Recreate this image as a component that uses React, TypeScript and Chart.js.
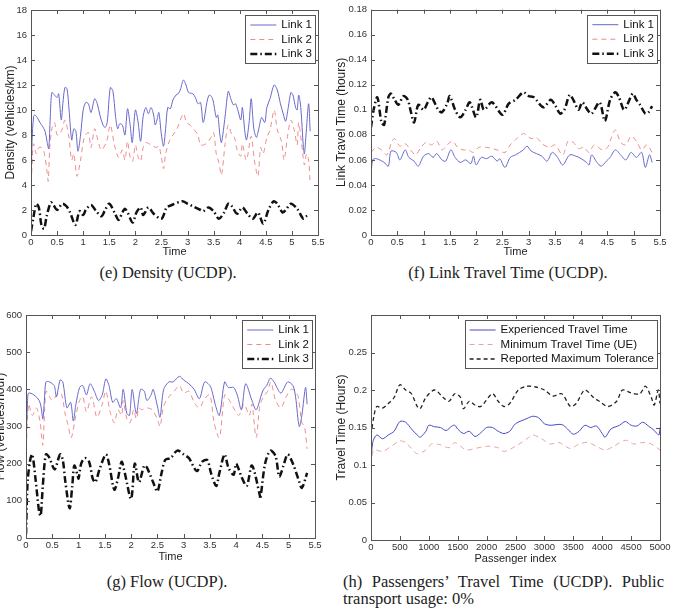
import React, { useEffect, useRef } from 'react';
import { Chart, registerables } from 'chart.js';
Chart.register(...registerables);

// ---------- Data (x, y pairs) ----------
const timeTicks = { min: 0, max: 5.5, step: 0.5 };

const densityLink1: [number, number][] = [[0,3],[0.02,7.5],[0.05,9.5],[0.07,9.6],[0.12,9.4],[0.17,9.0],[0.22,8.7],[0.27,8.3],[0.31,7.4],[0.34,6.9],[0.37,9.5],[0.4,11.4],[0.45,11.2],[0.5,11.0],[0.53,11.3],[0.58,9.2],[0.61,10.5],[0.65,11.8],[0.69,11.7],[0.73,10.0],[0.78,7.6],[0.82,8.5],[0.86,8.3],[0.9,6.7],[0.95,8.0],[1.0,10.0],[1.05,10.6],[1.1,10.5],[1.15,9.8],[1.22,10.9],[1.27,10.5],[1.32,9.6],[1.38,8.8],[1.42,8.6],[1.46,9.0],[1.52,11.8],[1.57,11.5],[1.62,9.5],[1.66,8.5],[1.7,8.9],[1.75,8.8],[1.8,8.0],[1.85,10.1],[1.9,8.8],[1.94,7.4],[2.0,10.0],[2.05,9.1],[2.1,7.5],[2.15,9.5],[2.2,10.2],[2.25,9.7],[2.3,10.2],[2.35,9.6],[2.38,8.8],[2.42,9.3],[2.45,9.8],[2.5,8.0],[2.54,7.1],[2.58,8.5],[2.62,10.2],[2.67,10.1],[2.72,10.8],[2.78,11.2],[2.82,11.3],[2.86,11.6],[2.92,12.4],[2.97,12.0],[3.02,11.4],[3.1,11.3],[3.15,11.0],[3.2,10.5],[3.25,10.6],[3.3,9.0],[3.38,10.8],[3.42,11.2],[3.48,10.9],[3.55,9.4],[3.58,9.6],[3.62,8.0],[3.65,7.4],[3.72,9.5],[3.78,11.5],[3.83,10.9],[3.88,10.4],[3.92,10.5],[3.97,9.9],[4.02,9.2],[4.05,10.2],[4.1,8.2],[4.13,7.6],[4.18,9.0],[4.22,10.9],[4.27,8.5],[4.32,7.8],[4.36,8.4],[4.42,9.4],[4.48,9.0],[4.52,10.2],[4.58,10.9],[4.66,12.0],[4.72,11.6],[4.78,10.5],[4.84,9.6],[4.88,9.1],[4.93,10.2],[4.98,11.4],[5.02,11.2],[5.07,10.2],[5.1,10.0],[5.13,11.2],[5.17,10.2],[5.22,7.0],[5.24,6.5],[5.27,8.0],[5.32,10.5],[5.35,8.3]];
const densityLink2: [number, number][] = [[0,3.5],[0.03,6.5],[0.05,7.3],[0.1,6.5],[0.15,7.0],[0.2,7.0],[0.24,6.8],[0.27,6.2],[0.31,5.0],[0.33,4.3],[0.36,7.0],[0.4,8.5],[0.45,9.0],[0.5,8.0],[0.55,8.1],[0.6,8.5],[0.65,9.2],[0.72,8.0],[0.78,6.0],[0.82,6.5],[0.88,4.7],[0.95,6.0],[1.02,7.8],[1.1,8.2],[1.15,7.0],[1.22,8.5],[1.28,7.6],[1.35,6.8],[1.45,7.5],[1.52,8.8],[1.6,7.2],[1.68,6.2],[1.75,6.8],[1.8,6.0],[1.85,7.5],[1.9,6.2],[1.95,5.9],[2.0,7.2],[2.05,6.3],[2.1,5.9],[2.15,7.0],[2.2,7.4],[2.3,7.2],[2.4,7.0],[2.45,7.1],[2.5,6.2],[2.54,5.3],[2.58,6.5],[2.65,7.5],[2.72,8.0],[2.8,8.5],[2.92,9.7],[2.98,9.0],[3.05,8.8],[3.15,8.3],[3.2,8.0],[3.25,7.2],[3.35,7.3],[3.45,7.8],[3.5,8.2],[3.55,6.5],[3.6,5.8],[3.65,4.8],[3.72,7.3],[3.78,8.8],[3.85,8.0],[3.9,7.8],[3.95,6.8],[4.02,6.3],[4.05,7.3],[4.12,6.0],[4.15,6.3],[4.22,7.9],[4.28,6.0],[4.35,4.7],[4.4,7.0],[4.45,6.5],[4.52,7.8],[4.58,8.4],[4.66,10.0],[4.72,8.4],[4.8,7.5],[4.85,6.0],[4.92,8.0],[4.98,9.2],[5.05,8.3],[5.1,7.2],[5.13,9.0],[5.2,6.8],[5.24,5.6],[5.28,6.5],[5.32,6.0],[5.35,4.2]];
const densityLink3: [number, number][] = [[0,0.3],[0.05,1.5],[0.1,2.5],[0.15,2.2],[0.2,0.8],[0.25,0.5],[0.3,1.5],[0.38,2.6],[0.43,2.4],[0.5,2.0],[0.6,2.5],[0.68,2.3],[0.75,1.8],[0.85,0.8],[0.93,1.9],[1.0,1.6],[1.05,2.0],[1.15,2.4],[1.25,1.9],[1.35,1.5],[1.42,2.0],[1.5,2.5],[1.6,1.8],[1.68,1.2],[1.75,1.8],[1.8,2.1],[1.85,1.8],[1.95,1.0],[2.02,1.8],[2.1,2.2],[2.15,1.6],[2.25,2.2],[2.35,1.7],[2.5,1.3],[2.6,2.2],[2.7,2.4],[2.9,2.7],[3.0,2.5],[3.1,2.3],[3.25,2.0],[3.3,1.9],[3.4,2.2],[3.5,1.9],[3.6,1.3],[3.7,1.8],[3.78,2.5],[3.85,2.3],[3.95,1.7],[4.05,2.2],[4.15,1.7],[4.25,1.3],[4.35,1.8],[4.45,0.9],[4.55,2.0],[4.65,2.7],[4.72,2.5],[4.82,1.8],[4.88,2.0],[4.98,2.5],[5.1,2.1],[5.22,1.3],[5.28,1.5],[5.35,1.6]];

const travelLink1: [number, number][] = [[0,0.045],[0.03,0.06],[0.1,0.061],[0.25,0.058],[0.33,0.055],[0.38,0.067],[0.48,0.066],[0.55,0.06],[0.65,0.068],[0.72,0.062],[0.82,0.059],[0.9,0.055],[1.0,0.063],[1.1,0.065],[1.18,0.062],[1.25,0.065],[1.35,0.06],[1.42,0.059],[1.52,0.068],[1.6,0.062],[1.7,0.058],[1.8,0.06],[1.9,0.057],[1.95,0.063],[2.0,0.056],[2.1,0.062],[2.2,0.061],[2.3,0.063],[2.4,0.059],[2.45,0.061],[2.55,0.054],[2.65,0.062],[2.75,0.064],[2.9,0.068],[2.97,0.071],[3.05,0.067],[3.15,0.065],[3.25,0.063],[3.35,0.059],[3.45,0.066],[3.55,0.062],[3.65,0.056],[3.78,0.064],[3.9,0.063],[4.0,0.061],[4.1,0.058],[4.15,0.056],[4.2,0.064],[4.3,0.058],[4.38,0.055],[4.48,0.059],[4.55,0.062],[4.65,0.068],[4.75,0.064],[4.85,0.06],[4.95,0.066],[5.05,0.062],[5.15,0.066],[5.22,0.054],[5.3,0.064],[5.35,0.058]];
const travelLink2: [number, number][] = [[0,0.066],[0.1,0.07],[0.2,0.068],[0.3,0.064],[0.4,0.075],[0.45,0.077],[0.55,0.071],[0.65,0.073],[0.75,0.068],[0.85,0.064],[0.95,0.07],[1.05,0.074],[1.15,0.072],[1.25,0.075],[1.35,0.068],[1.45,0.072],[1.55,0.075],[1.65,0.07],[1.75,0.068],[1.85,0.068],[1.95,0.066],[2.05,0.07],[2.2,0.07],[2.4,0.068],[2.55,0.066],[2.65,0.072],[2.75,0.076],[2.9,0.081],[3.05,0.077],[3.15,0.078],[3.25,0.073],[3.4,0.07],[3.5,0.072],[3.65,0.064],[3.75,0.075],[3.85,0.074],[3.95,0.069],[4.05,0.07],[4.15,0.066],[4.25,0.072],[4.4,0.068],[4.5,0.07],[4.55,0.075],[4.65,0.084],[4.75,0.074],[4.85,0.072],[4.95,0.079],[5.05,0.075],[5.15,0.068],[5.25,0.072],[5.35,0.066]];
const travelLink3: [number, number][] = [[0,0.086],[0.05,0.1],[0.12,0.11],[0.2,0.09],[0.25,0.088],[0.33,0.11],[0.38,0.113],[0.45,0.108],[0.52,0.104],[0.62,0.111],[0.7,0.108],[0.75,0.1],[0.82,0.09],[0.9,0.104],[1.0,0.1],[1.08,0.106],[1.15,0.11],[1.28,0.1],[1.35,0.098],[1.45,0.105],[1.5,0.111],[1.6,0.1],[1.7,0.094],[1.8,0.1],[1.88,0.106],[2.0,0.094],[2.08,0.108],[2.15,0.1],[2.3,0.106],[2.5,0.096],[2.62,0.105],[2.75,0.108],[2.9,0.114],[3.0,0.111],[3.1,0.11],[3.28,0.102],[3.42,0.108],[3.5,0.104],[3.6,0.097],[3.68,0.1],[3.78,0.112],[3.85,0.108],[3.95,0.1],[4.02,0.106],[4.12,0.1],[4.2,0.097],[4.35,0.106],[4.45,0.091],[4.55,0.108],[4.65,0.114],[4.72,0.11],[4.82,0.1],[4.98,0.113],[5.05,0.108],[5.12,0.104],[5.22,0.097],[5.28,0.098],[5.35,0.103]];

const flowLink1: [number, number][] = [[0,250],[0.03,370],[0.05,390],[0.15,385],[0.25,370],[0.29,350],[0.32,320],[0.35,370],[0.38,420],[0.45,420],[0.5,415],[0.54,410],[0.58,380],[0.65,425],[0.7,420],[0.78,350],[0.85,365],[0.9,315],[0.95,360],[1.02,405],[1.08,410],[1.15,385],[1.22,415],[1.3,395],[1.38,370],[1.45,385],[1.52,428],[1.58,410],[1.65,365],[1.72,375],[1.8,350],[1.85,400],[1.92,335],[1.97,330],[2.02,400],[2.1,335],[2.18,400],[2.25,395],[2.3,370],[2.38,385],[2.42,400],[2.5,355],[2.55,325],[2.62,400],[2.72,420],[2.8,420],[2.92,435],[3.0,425],[3.1,415],[3.2,400],[3.3,375],[3.4,420],[3.5,410],[3.55,390],[3.6,360],[3.68,330],[3.78,420],[3.85,405],[3.95,405],[4.02,385],[4.1,345],[4.18,415],[4.3,370],[4.38,345],[4.48,385],[4.52,400],[4.58,410],[4.65,430],[4.72,420],[4.85,390],[4.98,420],[5.08,410],[5.13,380],[5.2,300],[5.25,330],[5.32,405],[5.35,360]];
const flowLink2: [number, number][] = [[0,220],[0.05,360],[0.12,330],[0.2,350],[0.27,310],[0.32,250],[0.38,395],[0.45,380],[0.5,370],[0.62,390],[0.68,385],[0.75,330],[0.8,305],[0.86,270],[0.95,330],[1.02,370],[1.08,380],[1.15,340],[1.25,380],[1.35,325],[1.45,360],[1.52,395],[1.6,340],[1.68,310],[1.75,345],[1.82,330],[1.85,370],[1.92,320],[1.98,310],[2.05,345],[2.1,320],[2.15,350],[2.2,345],[2.3,350],[2.4,345],[2.5,320],[2.55,300],[2.62,355],[2.72,380],[2.82,395],[2.92,410],[3.0,390],[3.1,395],[3.2,365],[3.3,350],[3.4,375],[3.5,385],[3.58,310],[3.68,270],[3.78,385],[3.85,375],[3.95,350],[4.05,330],[4.15,360],[4.25,330],[4.3,360],[4.38,270],[4.45,355],[4.52,380],[4.6,395],[4.66,420],[4.75,370],[4.85,350],[4.95,380],[5.05,400],[5.12,395],[5.18,380],[5.25,310],[5.3,300],[5.35,240]];
const flowLink3: [number, number][] = [[0,10],[0.03,150],[0.08,210],[0.12,225],[0.18,160],[0.25,70],[0.28,60],[0.32,140],[0.38,225],[0.45,215],[0.5,195],[0.55,185],[0.65,225],[0.7,210],[0.75,150],[0.83,80],[0.88,140],[0.92,195],[0.98,170],[1.0,160],[1.05,200],[1.12,215],[1.2,205],[1.27,160],[1.32,150],[1.4,185],[1.52,225],[1.58,200],[1.68,130],[1.75,160],[1.82,205],[1.88,175],[2.0,105],[2.07,200],[2.15,150],[2.25,195],[2.3,190],[2.42,150],[2.5,125],[2.58,175],[2.65,210],[2.75,215],[2.88,235],[3.0,225],[3.1,215],[3.25,180],[3.35,205],[3.45,210],[3.52,175],[3.62,140],[3.68,175],[3.78,225],[3.85,190],[3.95,170],[4.0,200],[4.1,165],[4.2,140],[4.3,195],[4.45,115],[4.46,105],[4.55,200],[4.65,235],[4.75,220],[4.82,165],[4.9,195],[4.98,225],[5.08,200],[5.18,160],[5.25,135],[5.35,175]];

const experiencedTime: [number, number][] = [[0,0.1],[30,0.13],[100,0.14],[200,0.135],[300,0.14],[400,0.145],[500,0.158],[600,0.157],[700,0.148],[800,0.14],[850,0.137],[950,0.145],[1000,0.153],[1100,0.151],[1200,0.15],[1300,0.146],[1400,0.152],[1450,0.153],[1500,0.148],[1600,0.142],[1700,0.145],[1800,0.138],[1900,0.143],[2000,0.15],[2100,0.15],[2200,0.145],[2300,0.142],[2400,0.145],[2500,0.155],[2700,0.162],[2800,0.165],[2900,0.163],[3000,0.155],[3100,0.153],[3300,0.154],[3400,0.148],[3500,0.141],[3600,0.145],[3700,0.153],[3800,0.15],[3900,0.152],[4000,0.142],[4050,0.137],[4150,0.148],[4300,0.153],[4400,0.158],[4500,0.153],[4600,0.152],[4700,0.157],[4800,0.152],[4900,0.146],[4980,0.14],[5000,0.15]];
const minimumTime: [number, number][] = [[0,0.1],[50,0.12],[200,0.118],[350,0.125],[500,0.132],[600,0.13],[700,0.122],[800,0.115],[950,0.12],[1050,0.128],[1200,0.127],[1350,0.123],[1450,0.13],[1550,0.125],[1650,0.12],[1800,0.122],[2000,0.125],[2200,0.123],[2300,0.118],[2500,0.125],[2700,0.135],[2800,0.14],[2950,0.135],[3100,0.128],[3250,0.13],[3450,0.122],[3600,0.128],[3750,0.13],[3900,0.125],[4050,0.12],[4200,0.125],[4400,0.133],[4550,0.128],[4700,0.13],[4850,0.128],[5000,0.12]];
const reportedMaxTime: [number, number][] = [[0,0.14],[50,0.165],[100,0.178],[200,0.176],[300,0.182],[400,0.19],[500,0.207],[600,0.2],[700,0.195],[800,0.178],[850,0.175],[950,0.19],[1100,0.2],[1250,0.19],[1350,0.185],[1450,0.195],[1550,0.19],[1600,0.175],[1700,0.185],[1800,0.18],[1900,0.178],[2100,0.195],[2200,0.185],[2300,0.178],[2400,0.182],[2550,0.2],[2700,0.205],[2850,0.204],[3000,0.2],[3150,0.192],[3300,0.195],[3450,0.178],[3550,0.182],[3700,0.2],[3850,0.19],[3950,0.185],[4100,0.178],[4250,0.185],[4350,0.2],[4500,0.196],[4650,0.195],[4750,0.205],[4850,0.19],[4900,0.18],[4970,0.2],[5000,0.182]];

const linkLabels = ['Link 1', 'Link 2', 'Link 3'];
const passengerLabels = ['Experienced Travel Time', 'Minimum Travel Time (UE)', 'Reported Maximum Tolerance'];

// ---------- Styling ----------
const SANS = '"Liberation Sans", Arial, Helvetica, sans-serif';
const SERIF = '"Liberation Serif", "Times New Roman", serif';
const styleLink1 = { color: '#6868cc', width: 1, dash: [] as number[] };
const styleLink2 = { color: '#ee8c8c', width: 1, dash: [5, 4] };
const styleLink3 = { color: '#111111', width: 2.5, dash: [7, 3, 1.5, 3] };
const styleExp = { color: '#4848c4', width: 1, dash: [] as number[] };
const styleMin = { color: '#f0a0a0', width: 1, dash: [5, 4] };
const styleRep = { color: '#222222', width: 1.3, dash: [4, 3] };

const fmt = (v: number) => String(Math.round(Number(v) * 10000) / 10000);

type LineStyle = { color: string; width: number; dash: number[] };

const matlabBox = {
  id: 'matlabBox',
  afterDatasetsDraw(chart: any) {
    const { ctx, chartArea: a, scales } = chart;
    ctx.save();
    ctx.strokeStyle = '#555';
    ctx.lineWidth = 1;
    const L = 4;
    ctx.beginPath();
    for (const t of scales.x.ticks) {
      const px = Math.round(scales.x.getPixelForValue(t.value)) + 0.5;
      ctx.moveTo(px, a.bottom); ctx.lineTo(px, a.bottom - L);
      ctx.moveTo(px, a.top); ctx.lineTo(px, a.top + L);
    }
    for (const t of scales.y.ticks) {
      const py = Math.round(scales.y.getPixelForValue(t.value)) + 0.5;
      ctx.moveTo(a.left, py); ctx.lineTo(a.left + L, py);
      ctx.moveTo(a.right, py); ctx.lineTo(a.right - L, py);
    }
    ctx.stroke();
    ctx.strokeRect(Math.round(a.left) + 0.5, Math.round(a.top) + 0.5, Math.round(a.right - a.left), Math.round(a.bottom - a.top));
    ctx.restore();
  },
};

function makeLegend(labels: string[], styles: LineStyle[]) {
  return {
    id: 'boxLegend',
    afterDraw(chart: any) {
      const { ctx, chartArea: a } = chart;
      ctx.save();
      ctx.font = `11.5px ${SANS}`;
      const tw = Math.max(...labels.map((l) => ctx.measureText(l).width));
      const padL = 5, lineLen = 26, gap = 5, padR = 3, rowH = 14.5;
      const w = padL + lineLen + gap + tw + padR;
      const h = labels.length * rowH + 4.5;
      const x = a.right - 3 - w;
      const y = a.top + 5;
      ctx.fillStyle = '#fff';
      ctx.fillRect(x, y, w, h);
      ctx.strokeStyle = '#555';
      ctx.lineWidth = 1;
      ctx.strokeRect(Math.round(x) + 0.5, Math.round(y) + 0.5, Math.round(w), Math.round(h));
      labels.forEach((lab, i) => {
        const s = styles[i];
        const cy = y + 10 + i * rowH;
        ctx.setLineDash(s.dash);
        ctx.strokeStyle = s.color;
        ctx.lineWidth = s.width;
        ctx.beginPath();
        ctx.moveTo(x + padL, cy);
        ctx.lineTo(x + padL + lineLen, cy);
        ctx.stroke();
        ctx.setLineDash([]);
        ctx.fillStyle = '#111';
        ctx.textBaseline = 'middle';
        ctx.textAlign = 'left';
        ctx.fillText(lab, x + padL + lineLen + gap, cy);
      });
      ctx.restore();
    },
  };
}

type Spec = {
  left: number; top: number; width: number; height: number;
  padTop: number; padRight: number; yAxisW: number; xAxisH: number;
  xMin: number; xMax: number; xStep: number;
  yMin: number; yMax: number; yStep: number; hideTopY?: boolean;
  xTitle: string; yTitle: string; yTitlePad: number; xTitlePad: number;
  series: [number, number][][]; labels: string[]; styles: LineStyle[];
};

function buildConfig(s: Spec): any {
  return {
    type: 'line',
    data: {
      datasets: s.series.map((pts, i) => ({
        label: s.labels[i],
        data: pts.map(([x, y]) => ({ x, y })),
        borderColor: s.styles[i].color,
        borderWidth: s.styles[i].width,
        borderDash: s.styles[i].dash,
        pointRadius: 0,
        tension: 0.3,
        fill: false,
      })),
    },
    options: {
      animation: false,
      responsive: false,
      devicePixelRatio: 1,
      layout: { padding: { left: 0, top: s.padTop, right: s.padRight, bottom: 0 } },
      plugins: { legend: { display: false }, tooltip: { enabled: false } },
      scales: {
        x: {
          type: 'linear', min: s.xMin, max: s.xMax,
          ticks: { stepSize: s.xStep, autoSkip: false, maxRotation: 0, padding: 2, color: '#333', font: { family: SANS, size: 9.5 }, callback: (v: number) => fmt(v) },
          grid: { display: false, drawTicks: false },
          border: { display: false },
          title: { display: true, text: s.xTitle, color: '#222', font: { family: SANS, size: 11 }, padding: { top: 0, bottom: s.xTitlePad } },
          afterFit: (sc: any) => { sc.height = s.xAxisH; },
        },
        y: {
          type: 'linear', min: s.yMin, max: s.yMax,
          ticks: { stepSize: s.yStep, autoSkip: false, padding: 4, color: '#333', font: { family: SANS, size: 9.5 },
            callback: (v: number) => (s.hideTopY && Math.abs(v - s.yMax) < 1e-9 ? '' : fmt(v)) },
          grid: { display: false, drawTicks: false },
          border: { display: false },
          title: { display: true, text: s.yTitle, color: '#222', font: { family: SANS, size: 12, lineHeight: 1 }, padding: { top: s.yTitlePad, bottom: 0 } },
          afterFit: (sc: any) => { sc.width = s.yAxisW; },
        },
      },
    },
    plugins: [matlabBox, makeLegend(s.labels, s.styles)],
  };
}

const specs: Spec[] = [
  {
    left: 0, top: 0, width: 336, height: 262, padTop: 10, padRight: 18, yAxisW: 31, xAxisH: 27,
    xMin: timeTicks.min, xMax: timeTicks.max, xStep: timeTicks.step, yMin: 0, yMax: 18, yStep: 2,
    xTitle: 'Time', yTitle: 'Density (vehicles/km)', yTitlePad: 5, xTitlePad: 3,
    series: [densityLink1, densityLink2, densityLink3], labels: linkLabels, styles: [styleLink1, styleLink2, styleLink3],
  },
  {
    left: 336, top: 0, width: 337, height: 262, padTop: 9, padRight: 13, yAxisW: 35, xAxisH: 27,
    xMin: timeTicks.min, xMax: timeTicks.max, xStep: timeTicks.step, yMin: 0, yMax: 0.18, yStep: 0.02,
    xTitle: 'Time', yTitle: 'Link Travel Time (hours)', yTitlePad: 0, xTitlePad: 3,
    series: [travelLink1, travelLink2, travelLink3], labels: linkLabels, styles: [styleLink1, styleLink2, styleLink3],
  },
  {
    left: -6, top: 290, width: 342, height: 280, padTop: 25, padRight: 21, yAxisW: 32, xAxisH: 32,
    xMin: timeTicks.min, xMax: timeTicks.max, xStep: timeTicks.step, yMin: 0, yMax: 600, yStep: 100,
    xTitle: 'Time', yTitle: 'Flow (vehicles/hour)', yTitlePad: 1, xTitlePad: 6,
    series: [flowLink1, flowLink2, flowLink3], labels: linkLabels, styles: [styleLink1, styleLink2, styleLink3],
  },
  {
    left: 336, top: 290, width: 337, height: 280, padTop: 25, padRight: 13, yAxisW: 35, xAxisH: 30,
    xMin: 0, xMax: 5000, xStep: 500, yMin: 0, yMax: 0.3, yStep: 0.05, hideTopY: true,
    xTitle: 'Passenger index', yTitle: 'Travel Time (Hours)', yTitlePad: 0, xTitlePad: 4,
    series: [experiencedTime, minimumTime, reportedMaxTime], labels: passengerLabels, styles: [styleExp, styleMin, styleRep],
  },
];

function ChartCanvas({ spec }: { spec: Spec }) {
  const ref = useRef<HTMLCanvasElement>(null);
  useEffect(() => {
    const chart = new Chart(ref.current as HTMLCanvasElement, buildConfig(spec));
    return () => chart.destroy();
  }, [spec]);
  return (
    <canvas
      ref={ref}
      width={spec.width}
      height={spec.height}
      style={{ position: 'absolute', left: spec.left, top: spec.top, width: spec.width, height: spec.height }}
    />
  );
}

const captionStyle: React.CSSProperties = {
  position: 'absolute', fontFamily: SERIF, fontSize: 16.5, lineHeight: '20px', color: '#222', whiteSpace: 'nowrap',
};

export default function App() {
  return (
    <div style={{ position: 'absolute', left: 0, top: 0, width: 673, height: 609, overflow: 'hidden', background: '#fff' }}>
      {specs.map((s, i) => (
        <ChartCanvas key={i} spec={s} />
      ))}
      <div style={{ ...captionStyle, left: 68, width: 200, top: 263, textAlign: 'center' }}>(e) Density (UCDP).</div>
      <div style={{ ...captionStyle, left: 408, width: 200, top: 263, textAlign: 'center' }}>(f) Link Travel Time (UCDP).</div>
      <div style={{ ...captionStyle, left: 67, width: 200, top: 572, textAlign: 'center' }}>(g) Flow (UCDP).</div>
      <div style={{ ...captionStyle, left: 343, width: 321, top: 572, textAlign: 'justify', textAlignLast: 'justify' as any, whiteSpace: 'normal' }}>
        (h) Passengers’ Travel Time (UCDP). Public
      </div>
      <div style={{ ...captionStyle, left: 343, top: 589 }}>transport usage: 0%</div>
    </div>
  );
}
